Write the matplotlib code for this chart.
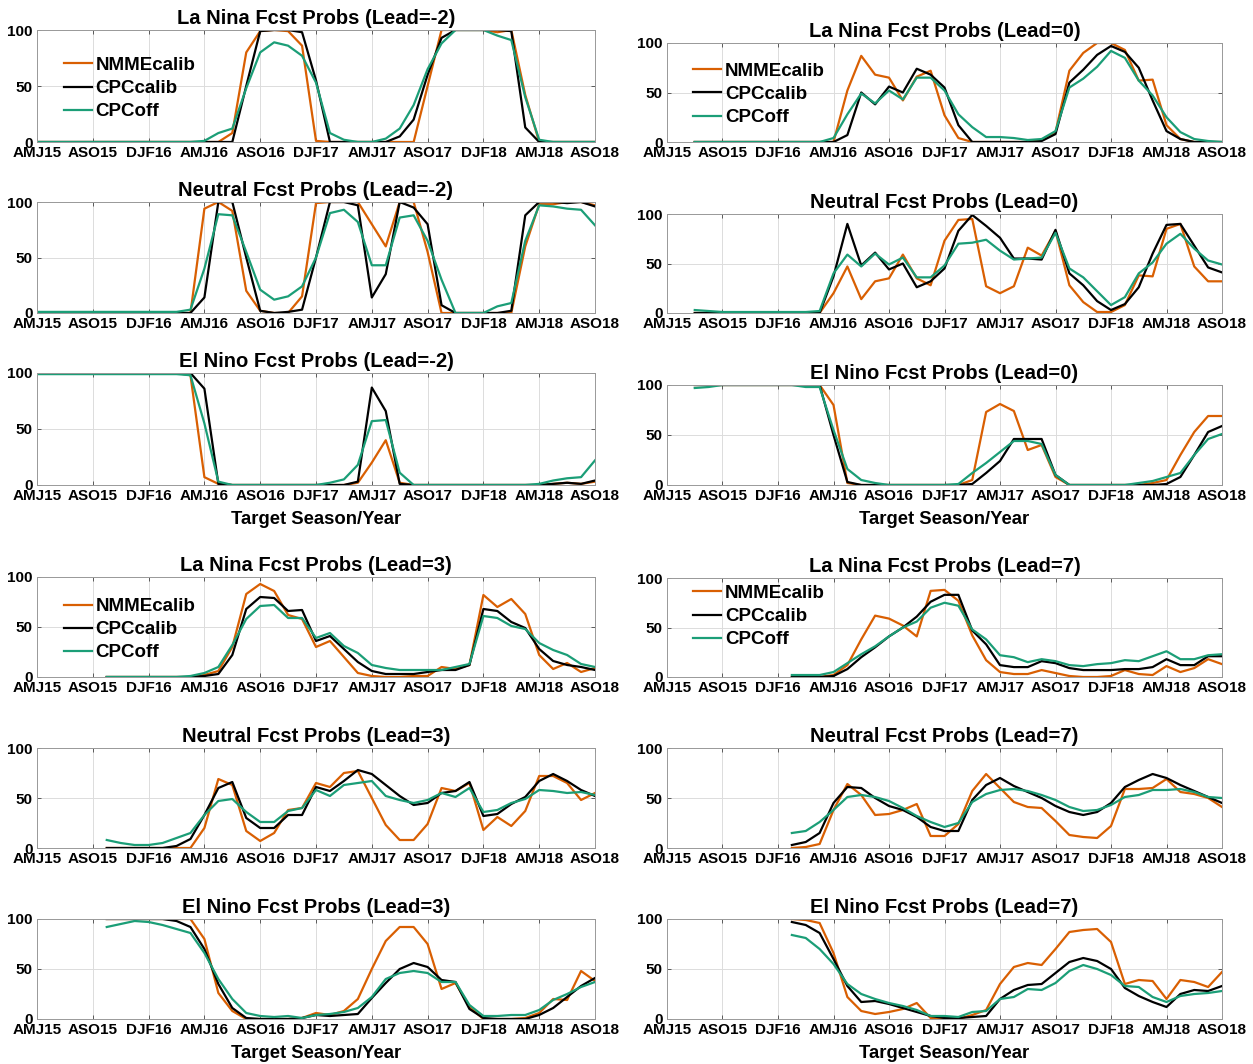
import numpy as np
import matplotlib.pyplot as plt

plt.rcParams['font.family'] = ['Liberation Sans', 'DejaVu Sans']
plt.rcParams['font.weight'] = 'bold'

# seasons AMJ15 .. ASO18 (41 running 3-month seasons)
n_seasons = 41
tick_labels = ['AMJ15', 'ASO15', 'DJF16', 'AMJ16', 'ASO16', 'DJF17',
               'AMJ17', 'ASO17', 'DJF18', 'AMJ18', 'ASO18']
lead_start = {-2: 0, 0: 2, 3: 5, 7: 9}

# ---- La Nina ----
lanina_m2_nmme = [0]*14 + [8, 80, 99, 100, 99, 86, 1] + [0]*7 + [50, 100, 100, 100, 100, 98, 100, 42] + [0]*5
lanina_m2_cpc = [0]*15 + [50, 99, 100, 100, 98, 55] + [0]*5 + [5, 20, 60, 93, 100, 100, 100, 100, 99, 13] + [0]*5
lanina_m2_off = [0]*12 + [1, 8, 12, 48, 80, 89, 86, 77, 53, 8, 2, 0, 0, 3, 12, 33, 65, 88, 100, 100, 100, 95, 91, 40, 2] + [0]*4

lanina_0_nmme = [0]*11 + [52, 87, 68, 65, 42, 66, 72, 27, 4] + [0]*5 + [2, 10, 72, 90, 100, 100, 93, 62, 63, 17, 3, 0, 0, 0]
lanina_0_cpc = [0]*11 + [7, 50, 38, 56, 50, 74, 68, 55, 17] + [0]*5 + [1, 8, 60, 73, 88, 97, 91, 75, 42, 11, 3, 0, 0, 0]
lanina_0_off = [0]*10 + [4, 28, 49, 39, 52, 43, 65, 65, 52, 28, 15, 5, 5, 4, 2, 3, 11, 55, 64, 76, 92, 85, 62, 47, 25, 10, 3, 1, 0]

lanina_3_nmme = [0]*7 + [2, 6, 30, 83, 93, 86, 62, 58, 30, 36, 20, 4, 1, 0, 0, 1, 1, 10, 8, 12, 82, 70, 78, 63, 22, 8, 14, 5, 9]
lanina_3_cpc = [0]*7 + [1, 3, 22, 68, 80, 79, 66, 67, 36, 41, 28, 15, 6, 3, 3, 3, 5, 7, 7, 12, 68, 66, 55, 49, 28, 16, 12, 10, 7]
lanina_3_off = [0]*6 + [1, 4, 10, 32, 58, 71, 72, 59, 59, 39, 44, 31, 24, 12, 9, 7, 7, 7, 7, 10, 13, 61, 59, 51, 48, 34, 27, 22, 13, 10]

lanina_7_nmme = [0, 0, 0, 2, 12, 38, 62, 59, 52, 41, 87, 88, 77, 42, 17, 5, 3, 3, 7, 4, 1, 0, 0, 1, 7, 3, 2, 11, 5, 9, 18, 13]
lanina_7_cpc = [0, 0, 0, 1, 8, 20, 30, 41, 50, 61, 76, 83, 83, 47, 33, 12, 10, 10, 16, 14, 9, 7, 7, 7, 8, 8, 10, 18, 12, 12, 21, 21]
lanina_7_off = [2, 2, 2, 5, 14, 23, 31, 41, 50, 56, 70, 75, 72, 48, 38, 22, 20, 15, 18, 16, 12, 11, 13, 14, 17, 16, 21, 26, 18, 18, 22, 23]

# ---- Neutral ----
neutral_m2_nmme = [0]*12 + [94, 100, 92, 20, 2, 0, 0, 15, 99, 100, 100, 100, 80, 60, 100, 100, 55, 0] + [0]*5 + [60, 98, 98, 100, 100, 97]
neutral_m2_cpc = [0]*12 + [14, 100, 100, 50, 2, 0, 1, 3, 50, 100, 100, 97, 14, 35, 100, 95, 80, 7, 0, 0, 0, 0, 2, 88, 100, 100, 99, 100, 96]
neutral_m2_off = [1]*11 + [3, 40, 89, 88, 55, 21, 12, 15, 24, 50, 90, 93, 82, 43, 43, 86, 88, 65, 30, 0, 0, 0, 6, 9, 65, 97, 96, 94, 93, 79]

neutral_0_nmme = [0]*10 + [20, 47, 14, 32, 35, 59, 35, 28, 73, 94, 95, 27, 20, 27, 66, 58, 83, 28, 11, 1, 1, 8, 38, 37, 85, 90, 47, 32, 32]
neutral_0_cpc = [0]*10 + [37, 90, 48, 61, 44, 50, 26, 32, 45, 83, 99, 88, 76, 55, 55, 54, 84, 40, 28, 12, 3, 9, 26, 60, 89, 90, 68, 46, 41]
neutral_0_off = [3, 2] + [1]*7 + [2, 40, 59, 47, 60, 49, 56, 36, 36, 48, 70, 71, 74, 63, 54, 55, 56, 81, 45, 36, 22, 8, 16, 40, 51, 70, 80, 65, 53, 49]

neutral_3_nmme = [0]*7 + [20, 69, 63, 17, 7, 15, 38, 40, 65, 61, 75, 77, 50, 23, 8, 8, 24, 60, 57, 65, 18, 31, 22, 37, 72, 72, 65, 48, 55]
neutral_3_cpc = [0]*5 + [2, 9, 33, 60, 66, 30, 20, 20, 33, 33, 61, 57, 67, 78, 74, 63, 52, 43, 45, 55, 57, 66, 32, 34, 44, 51, 67, 74, 67, 58, 52]
neutral_3_off = [8, 5, 3, 3, 5, 10, 15, 33, 47, 49, 36, 26, 26, 37, 40, 58, 52, 63, 65, 67, 52, 48, 45, 48, 55, 51, 60, 36, 38, 45, 49, 58, 57, 55, 56, 53]

neutral_7_nmme = [0, 1, 4, 38, 64, 53, 33, 34, 38, 44, 12, 12, 24, 57, 74, 60, 46, 41, 40, 27, 13, 11, 10, 22, 59, 59, 60, 69, 56, 54, 50, 41]
neutral_7_cpc = [3, 6, 15, 45, 61, 60, 50, 42, 38, 31, 21, 17, 17, 48, 63, 70, 62, 56, 50, 42, 36, 33, 36, 45, 61, 68, 74, 70, 63, 57, 51, 45]
neutral_7_off = [15, 17, 26, 38, 51, 53, 51, 47, 40, 32, 26, 21, 25, 46, 54, 58, 59, 57, 53, 48, 41, 37, 38, 43, 51, 53, 58, 58, 59, 56, 51, 50]

# ---- El Nino ----
elnino_m2_nmme = [100]*11 + [98, 7, 1] + [0]*9 + [2, 20, 40, 2] + [0]*10 + [1, 2, 1, 3]
elnino_m2_cpc = [100]*12 + [86, 1] + [0]*9 + [3, 87, 66, 1] + [0]*10 + [1, 2, 1, 4]
elnino_m2_off = [99]*11 + [98, 55, 3] + [0]*7 + [2, 5, 18, 57, 58, 11] + [0]*9 + [1, 4, 6, 7, 22]

elnino_0_nmme = [100]*10 + [80, 2] + [0]*8 + [5, 73, 81, 74, 35, 40, 8] + [0]*6 + [2, 5, 30, 53, 69, 69]
elnino_0_cpc = [100]*10 + [50, 3] + [0]*8 + [1, 12, 24, 46, 46, 46, 10] + [0]*7 + [1, 8, 30, 53, 59]
elnino_0_off = [97, 98] + [100]*6 + [98, 98, 55, 16, 5, 2] + [0]*5 + [1, 12, 22, 33, 44, 44, 41, 10] + [0]*5 + [2, 4, 8, 12, 30, 46, 51]

elnino_3_nmme = [100]*7 + [80, 26, 8, 0, 0, 0, 0, 1, 6, 4, 8, 20, 50, 78, 92, 92, 75, 30, 36, 12, 0, 0, 0, 1, 6, 20, 19, 48, 38]
elnino_3_cpc = [100]*5 + [98, 92, 70, 35, 11, 1, 0, 0, 0, 1, 4, 3, 4, 5, 21, 36, 50, 56, 52, 39, 37, 10, 1, 0, 0, 0, 4, 11, 22, 33, 41]
elnino_3_off = [92, 95, 98, 97, 94, 90, 86, 66, 40, 20, 6, 3, 2, 3, 1, 4, 5, 7, 11, 22, 40, 46, 48, 46, 37, 37, 14, 3, 3, 4, 4, 9, 19, 25, 32, 37]

elnino_7_nmme = [100, 99, 96, 66, 22, 8, 5, 7, 10, 16, 1, 0, 0, 4, 9, 35, 52, 56, 54, 70, 87, 89, 90, 77, 35, 39, 38, 20, 39, 37, 32, 47]
elnino_7_cpc = [97, 94, 86, 60, 33, 17, 18, 15, 11, 7, 3, 1, 1, 2, 3, 20, 29, 34, 35, 46, 57, 61, 58, 50, 31, 23, 17, 12, 25, 29, 28, 33]
elnino_7_off = [84, 81, 70, 55, 35, 25, 20, 16, 13, 9, 3, 3, 2, 7, 8, 20, 22, 30, 29, 36, 48, 54, 50, 44, 33, 32, 22, 17, 23, 25, 26, 28]

orange = '#D95F02'
green = '#1B9E77'
W, H = 1253, 1064

fig = plt.figure(figsize=(W / 100, H / 100), dpi=100)


def add_panel(x0, x1, y0, y1):
    # pixel box -> figure fraction
    return fig.add_axes([x0 / W, 1 - y1 / H, (x1 - x0) / W, (y1 - y0) / H])


L, R = (37, 595), (667, 1222)
# (title, lead, series, xrange, yrange, legend anchor, xlabel)
panels = [
    ('La Nina', -2, (lanina_m2_nmme, lanina_m2_cpc, lanina_m2_off), L, (30, 142), (0.048, 0.76), False),
    ('Neutral', -2, (neutral_m2_nmme, neutral_m2_cpc, neutral_m2_off), L, (202, 313), None, False),
    ('El Nino', -2, (elnino_m2_nmme, elnino_m2_cpc, elnino_m2_off), L, (373, 485), None, True),
    ('La Nina', 0, (lanina_0_nmme, lanina_0_cpc, lanina_0_off), R, (43, 142), (0.047, 0.80), False),
    ('Neutral', 0, (neutral_0_nmme, neutral_0_cpc, neutral_0_off), R, (214, 313), None, False),
    ('El Nino', 0, (elnino_0_nmme, elnino_0_cpc, elnino_0_off), R, (385, 485), None, True),
    ('La Nina', 3, (lanina_3_nmme, lanina_3_cpc, lanina_3_off), L, (577, 677), (0.048, 0.79), False),
    ('Neutral', 3, (neutral_3_nmme, neutral_3_cpc, neutral_3_off), L, (748, 848), None, False),
    ('El Nino', 3, (elnino_3_nmme, elnino_3_cpc, elnino_3_off), L, (919, 1019), None, True),
    ('La Nina', 7, (lanina_7_nmme, lanina_7_cpc, lanina_7_off), R, (578, 677), (0.047, 0.93), False),
    ('Neutral', 7, (neutral_7_nmme, neutral_7_cpc, neutral_7_off), R, (748, 848), None, False),
    ('El Nino', 7, (elnino_7_nmme, elnino_7_cpc, elnino_7_off), R, (919, 1019), None, True),
]

for name, lead, series, xr, yr, leg, xlab in panels:
    ax = add_panel(xr[0], xr[1], yr[0], yr[1])
    x = np.arange(lead_start[lead], n_seasons)
    nmme, cpc, off = series
    ax.plot(x, nmme, color=orange, lw=1.6, label='NMMEcalib')
    ax.plot(x, cpc, color='black', lw=1.6, label='CPCcalib')
    ax.plot(x, off, color=green, lw=1.6, label='CPCoff')
    ax.set_xlim(0, n_seasons - 1)
    ax.set_ylim(0, 100)
    ax.set_xticks(np.arange(0, n_seasons, 4))
    ax.set_xticklabels(tick_labels)
    ax.set_yticks([0, 50, 100])
    ax.grid(True, color='#dcdcdc', lw=0.7)
    ax.set_axisbelow(True)
    ax.tick_params(direction='in', length=3, width=0.6, labelsize=11, pad=3,
                   color='#444444', top=True, right=True)
    for sp in ax.spines.values():
        sp.set_color('#999999')
        sp.set_linewidth(0.7)
    ax.set_title(f'{name} Fcst Probs (Lead={lead})', fontsize=14.5,
                 fontweight='bold', pad=4)
    if xlab:
        ax.set_xlabel('Target Season/Year', fontsize=13.3, fontweight='bold', labelpad=6)
    if leg is not None:
        ax.legend(loc='upper left', bbox_to_anchor=leg, frameon=False,
                  fontsize=13.5, handlelength=1.5, handletextpad=0.2,
                  labelspacing=0.32, borderpad=0, borderaxespad=0)

fig.savefig('out.png', dpi=100)
